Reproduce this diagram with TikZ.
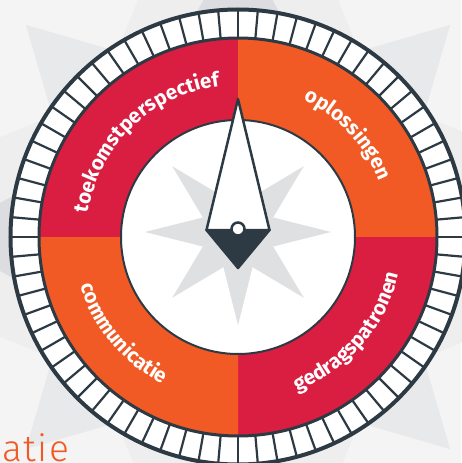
\documentclass[tikz,border=0pt]{standalone}
\usepackage{fontspec}
\setsansfont{Fira Sans}
\newfontfamily\thinfont[LetterSpace=4]{Fira Sans Light}
\usetikzlibrary{decorations.text}

\definecolor{wheelred}{HTML}{D91E41}
\definecolor{wheelorange}{HTML}{F15A24}
\definecolor{wheeldark}{HTML}{2D3A44}
\definecolor{backgray}{HTML}{F4F4F4}
\definecolor{rosegray}{HTML}{DFE0E2}
\definecolor{paleray}{HTML}{EEEEEF}
\definecolor{sideray}{HTML}{E8E9EB}
\definecolor{mainray}{HTML}{DCDDE0}

\begin{document}
\begin{tikzpicture}[x=1pt, y=1pt]
		\tikzstyle{Quarter} = [draw=none]
		\tikzstyle{Word} = [decorate, decoration={text along path, text align=center, text color=white}]
		\tikzstyle{Rim} = [wheeldark, line width=3]
		
		\useasboundingbox (-238,-226) rectangle (223,237);
		\fill [backgray] (-238,-226) rectangle (223,237);
		
		% faded rose behind the wheel
		\foreach \a in {0,90,180,270}
			\fill [paleray] (\a:480) -- (\a+45:198) -- (0,0) -- (\a-45:198) -- cycle;
		\foreach \a in {45,135,225,315}
			\fill [sideray] (\a:300) -- (\a+22.5:185) -- (0,0) -- (\a-22.5:185) -- cycle;
		\foreach \a in {0,90,180,270}
			\fill [mainray] (\a:300) -- (\a+22.5:185) -- (0,0) -- (\a-22.5:185) -- cycle;
		
		% tick ring
		\fill [white] (0,0) circle (227.5);
		\foreach \a in {0,5,...,355}
			\draw [wheeldark, line width=2.2] (\a:198.5) -- (\a:227.5);
		\draw [Rim, line width=4] (0,0) circle (227.5);
		
		% four quarters
		\fill [wheelred, Quarter] (0,0) -- (90:198) arc[start angle=90, end angle=180, radius=198] -- cycle;
		\fill [wheelorange, Quarter] (0,0) -- (0:198) arc[start angle=0, end angle=90, radius=198] -- cycle;
		\fill [wheelred, Quarter] (0,0) -- (270:198) arc[start angle=270, end angle=360, radius=198] -- cycle;
		\fill [wheelorange, Quarter] (0,0) -- (180:198) arc[start angle=180, end angle=270, radius=198] -- cycle;
		\draw [Rim] (0,0) circle (199);
		
		% labels
		\path [Word, decoration={text={|\fontsize{20.5}{20.5}\selectfont\sffamily\bfseries|toekomstperspectief}}]
			(194:152) arc[start angle=194, end angle=74, radius=152];
		\path [Word, decoration={text={|\fontsize{20.5}{20.5}\selectfont\sffamily\bfseries|oplossingen}}]
			(103:152) arc[start angle=103, end angle=-17, radius=152];
		\path [Word, decoration={text={|\fontsize{20.5}{20.5}\selectfont\sffamily\bfseries|gedragspatronen}}]
			(-101:165) arc[start angle=-101, end angle=19, radius=165];
		\path [Word, decoration={text={|\fontsize{20.5}{20.5}\selectfont\sffamily\bfseries|communicatie}}]
			(160:165) arc[start angle=160, end angle=280, radius=165];
		
		% compass face
		\filldraw [fill=white, draw=wheeldark, line width=2] (0,0) circle (117);
		\begin{scope}[shift={(0,5)}]
			\foreach \a in {0,45,...,315}
				\fill [rosegray] (\a:93) -- (\a+22.5:38) -- (0,0) -- (\a-22.5:38) -- cycle;
		\end{scope}
		
		% needle
		\filldraw [fill=wheeldark, draw=wheeldark, line width=2.5, line join=round] (-31.5,7) -- (31.5,7) -- (0,-31) -- cycle;
		\filldraw [fill=white, draw=wheeldark, line width=2.5, line join=round] (0,138) -- (31.5,7) -- (-31.5,7) -- cycle;
		\filldraw [fill=white, draw=wheeldark, line width=2.5] (0,8) circle (6.5);
		
		\node (atie) [anchor=base west, inner sep=0, text=wheelorange, font=\thinfont\fontsize{37}{37}\selectfont] at (-236,-224) {atie};
\end{tikzpicture}
\end{document}
